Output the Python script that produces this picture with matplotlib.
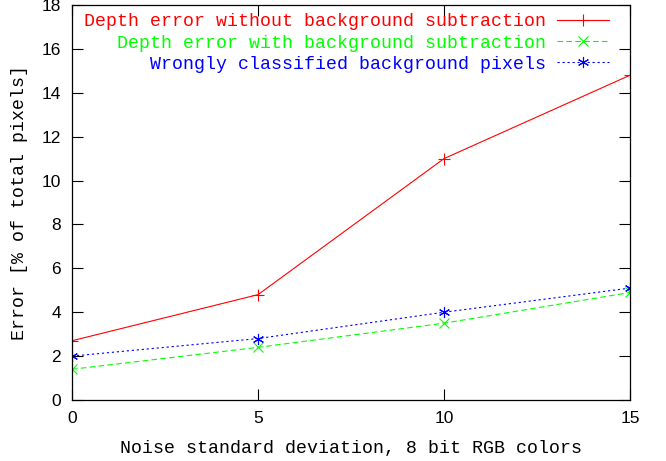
import matplotlib
matplotlib.use('Agg')
import matplotlib.pyplot as plt

# noise standard deviation (8 bit RGB)
noise = [0, 5, 10, 15]

errorNoSubtraction = [2.7, 4.8, 11.0, 14.8]
errorWithSubtraction = [1.4, 2.4, 3.5, 4.9]
wrongBackground = [2.0, 2.8, 4.0, 5.1]

labels = ['Depth error without background subtraction',
          'Depth error with background subtraction',
          'Wrongly classified background pixels']

xTicks = [0, 5, 10, 15]
yTicks = list(range(0, 19, 2))

mono = 'Liberation Mono'
sans = 'Liberation Sans'

fig = plt.figure(figsize=(6.66, 4.61), dpi=100)
ax = fig.add_axes([72/666, 61/461, 558/666, 395/461])

asterisk = (6, 2, 0)
ax.plot(noise, errorNoSubtraction, color='#ff0000', lw=0.8, marker='+',
        ms=8, mew=0.8, label=labels[0])
ax.plot(noise, errorWithSubtraction, color='#00ff00', lw=0.8, ls=(0, (5, 3)),
        marker='x', ms=7, mew=0.8, label=labels[1])
ax.plot(noise, wrongBackground, color='#0000ff', lw=0.8, ls=(0, (2, 2.5)),
        marker=asterisk, ms=8, mew=0.8, label=labels[2])

ax.set_xlim(0, 15)
ax.set_ylim(0, 18)
ax.set_xticks(xTicks)
ax.set_yticks(yTicks)
ax.tick_params(direction='in', length=8, width=0.8, top=True, right=True,
               labelsize=12.5, pad=8)
for lab in ax.get_xticklabels() + ax.get_yticklabels():
    lab.set_fontfamily(sans)
for s in ax.spines.values():
    s.set_linewidth(0.9)

ax.set_xlabel('Noise standard deviation, 8 bit RGB colors', fontfamily=mono,
              fontsize=13.15, labelpad=10)
ax.set_ylabel('Error [% of total pixels]', fontfamily=mono, fontsize=13.15,
              labelpad=10)

leg = ax.legend(loc='upper right', bbox_to_anchor=(0.975, 0.997), frameon=False,
                markerfirst=False, prop={'family': mono, 'size': 13.15},
                handlelength=2.85, handletextpad=0.6, labelspacing=0.22,
                borderaxespad=0)
for text, line in zip(leg.get_texts(), leg.get_lines()):
    text.set_color(line.get_color())

fig.savefig('out.png', dpi=100)
